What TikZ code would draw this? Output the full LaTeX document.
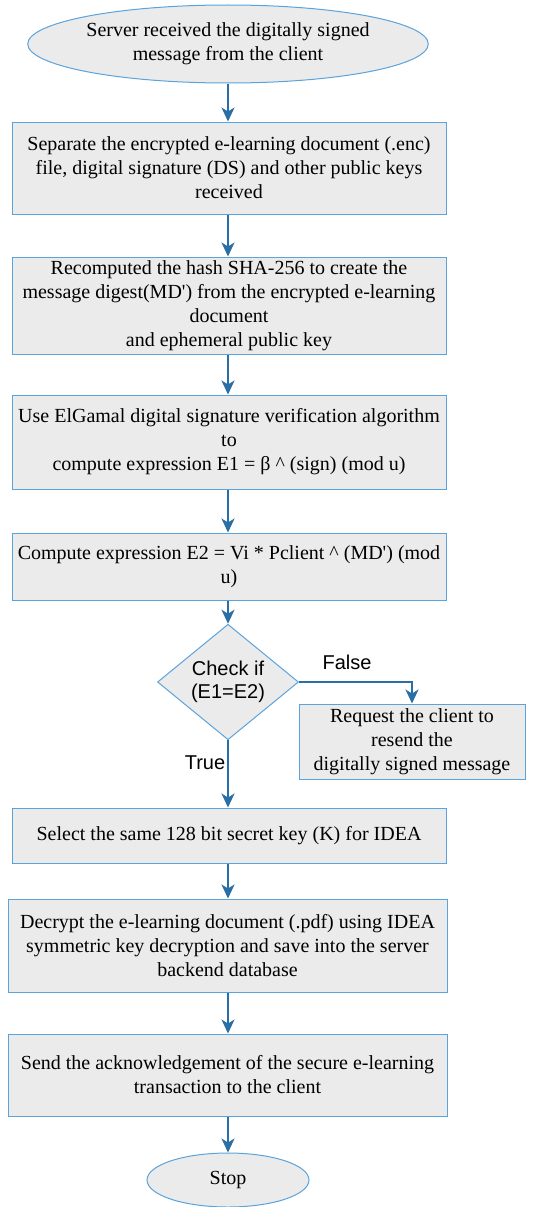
\documentclass[tikz,border=0pt]{standalone}
\usepackage{fontspec}
\setmainfont{Liberation Serif}
\newfontfamily\labelfont{Liberation Sans}
\usetikzlibrary{shapes.geometric,arrows.meta}
\definecolor{boxfill}{HTML}{EBEBEB}
\definecolor{boxline}{HTML}{5BA3DC}
\definecolor{flowline}{HTML}{2A6EA6}
\tikzset{
  every node/.style={font=\fontsize{20}{24}\selectfont},
  procbox/.style={rectangle, draw=boxline, fill=boxfill, line width=1pt, align=center, inner sep=0pt},
  termbox/.style={ellipse, draw=boxline, fill=boxfill, line width=1pt, align=center, inner sep=0pt},
  decbox/.style={diamond, draw=boxline, fill=boxfill, line width=1pt, align=center, inner sep=0pt,
    font=\labelfont\fontsize{20}{23}\selectfont},
  branchlabel/.style={font=\labelfont\fontsize{20}{23}\selectfont, inner sep=0pt},
  flow/.style={draw=flowline, line width=2pt, -{Stealth[length=14pt,width=13pt,inset=4pt]}},
}
\begin{document}
\begin{tikzpicture}[x=1pt,y=-1pt]
\useasboundingbox (0,0) rectangle (558,1207);

\node[termbox, minimum width=356pt, minimum height=78pt] (start) at (228,44)
  {Server received the digitally signed\\message from the client};

\node[procbox, minimum width=434pt, minimum height=92pt] (sep) at (229,168)
  {Separate the encrypted e-learning document (.enc)\\file, digital signature (DS) and other public keys\\received};

\node[procbox, minimum width=434pt, minimum height=97pt] (hash) at (229,305.5)
  {Recomputed the hash SHA-256 to create the\\message digest(MD\textquotesingle) from the encrypted e-learning\\document\\and ephemeral public key};

\node[procbox, minimum width=434pt, minimum height=94pt] (eone) at (229,442)
  {Use ElGamal digital signature verification algorithm\\to\\compute expression E1 = β \^{} (sign) (mod u)};

\node[procbox, minimum width=434pt, minimum height=67pt] (etwo) at (229,566.5)
  {Compute expression E2 = Vi * Pclient \^{} (MD\textquotesingle) (mod\\u)};

\node[decbox, minimum width=141pt, minimum height=104pt] (check) at (228,682)
  {Check if\\(E1=E2)};

\node[procbox, minimum width=226pt, minimum height=75pt] (resend) at (412,741.5)
  {Request the client to\\resend the\\digitally signed message};

\node[procbox, minimum width=434pt, minimum height=55pt] (key) at (229,835.5)
  {Select the same 128 bit secret key (K) for IDEA};

\node[procbox, minimum width=439pt, minimum height=93pt] (decrypt) at (227.5,945.5)
  {Decrypt the e-learning document (.pdf) using IDEA\\symmetric key decryption and save into the server\\backend database};

\node[procbox, minimum width=439pt, minimum height=82pt] (ack) at (227.5,1075)
  {Send the acknowledgement of the secure e-learning\\transaction to the client};

\node[termbox, minimum width=162pt, minimum height=54pt] (stop) at (228,1180) {Stop};

% main column of connectors, all on the centre line of the start ellipse
\draw[flow] (start) -- (sep.north -| start);
\draw[flow] (sep.south -| start) -- (hash.north -| start);
\draw[flow] (hash.south -| start) -- (eone.north -| start);
\draw[flow] (eone.south -| start) -- (etwo.north -| start);
\draw[flow] (etwo.south -| start) -- (check);
\draw[flow] (check.east) -| (resend.north);
\draw[flow] (check) -- (key.north -| start);
\draw[flow] (key.south -| start) -- (decrypt.north -| start);
\draw[flow] (decrypt.south -| start) -- (ack.north -| start);
\draw[flow] (ack.south -| start) -- (stop);

\node[branchlabel] (lfalse) at (347,662) {False};
\node[branchlabel] (ltrue) at (205,763) {True};
\end{tikzpicture}
\end{document}
